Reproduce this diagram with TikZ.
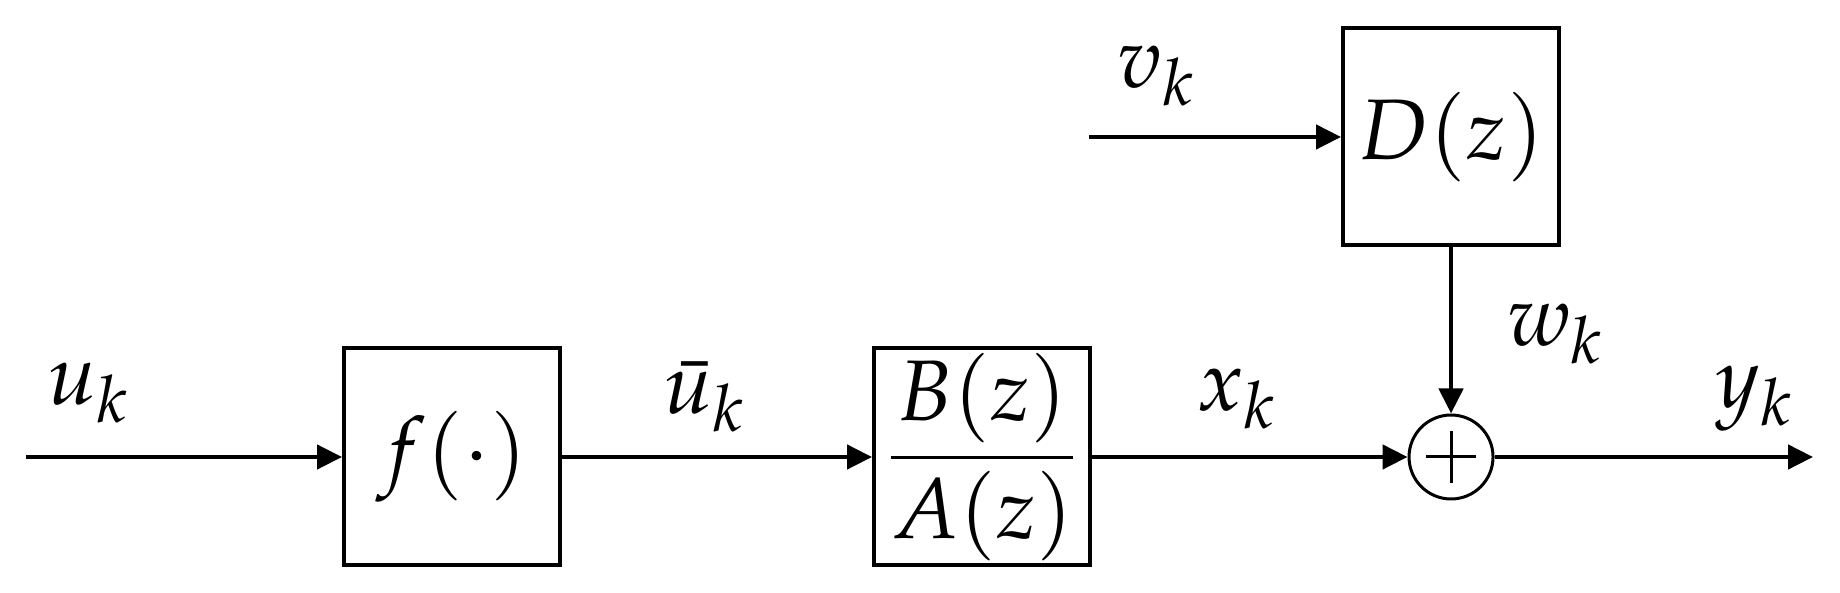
\documentclass[tikz,border=0pt]{standalone}
\usepackage{mathpazo}
\usetikzlibrary{arrows.meta}
\begin{document}
\begin{tikzpicture}[x=0.1pt,y=-0.1pt,
  every node/.style={font=\fontsize{8.6}{10}\selectfont},
  blk/.style={draw, line width=0.4pt, minimum width=21.6pt, minimum height=21.7pt, inner sep=0pt},
  sumnode/.style={draw, circle, line width=0.3pt, minimum size=8.4pt, inner sep=0pt},
  sig/.style={line width=0.45pt, -{Triangle[length=2.5pt,width=2.4pt]}},
  lbl/.style={inner sep=0pt}]
\useasboundingbox (0,0) rectangle (1840,593);
\node[blk] (f) at (452,457) {$f(\cdot)$};
\node[blk] (g) at (982,457) {$\displaystyle\frac{B(z)}{A(z)}$};
\node[sumnode] (s) at (1451,457) {};
\draw[line width=0.3pt] ([xshift=-2.5pt]s.center) -- ([xshift=2.5pt]s.center);
\draw[line width=0.3pt] ([yshift=-2.6pt]s.center) -- ([yshift=2.6pt]s.center);
\node[blk] (d) at (1451,137) {$D(z)$};
\coordinate (in) at (26,457);
\coordinate (out) at (1813,457);
\coordinate (vin) at (1089,137);
\draw[sig] (in) -- (f);
\draw[sig] (f) -- (g);
\draw[sig] (g) -- (s);
\draw[sig] (s) -- (out);
\draw[sig] (vin) -- (d);
\draw[sig] (d) -- (s);
\node[lbl] (uk) at (90,393) {$u_k$};
\node[lbl] (ubk) at (706,397) {$\bar{u}_k$};
\node[lbl] (xk) at (1238,399) {$x_k$};
\node[lbl] (yk) at (1756,399) {$y_k$};
\node[lbl] (vk) at (1158,76) {$v_k$};
\node[lbl] (wk) at (1557,334) {$w_k$};
\end{tikzpicture}
\end{document}
